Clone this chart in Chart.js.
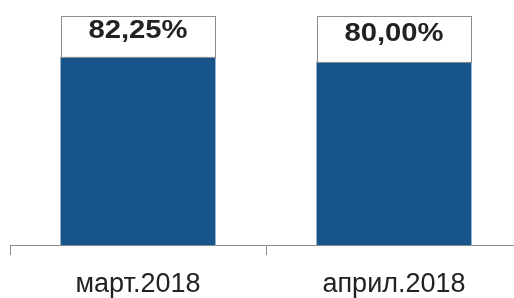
<!DOCTYPE html>
<html>
<head>
<meta charset="utf-8">
<script src="https://cdn.jsdelivr.net/npm/chart.js@4/dist/chart.umd.min.js"></script>
<style>
  html, body { margin: 0; padding: 0; background: #fff; overflow: hidden; }
  #wrap { position: relative; width: 522px; height: 298px; }
</style>
</head>
<body>
<div id="wrap"><canvas id="myChart"></canvas></div>
<script>
const categories = ['март.2018', 'април.2018'];
const values = [82.25, 80.00];
const scaleMax = 100;

const barColor = '#165489';

// white box with the percentage, from the bar top up to 100%
const valueBoxes = {
    id: 'valueBoxes',
    afterDatasetsDraw(chart) {
        const ctx = chart.ctx
        const y = chart.scales.y
        const meta = chart.getDatasetMeta(0)
        const top = y.getPixelForValue(scaleMax)
        meta.data.forEach((bar, i) => {
            const left = bar.x - bar.width / 2
            const bottom = bar.y
            ctx.save()
            ctx.fillStyle = '#fff'
            ctx.fillRect(left, top, bar.width, bottom - top)
            ctx.strokeStyle = '#8c8c8c'
            ctx.lineWidth = 1
            ctx.strokeRect(Math.round(left) + 0.5, Math.round(top) + 0.5, Math.round(bar.width) - 1, Math.round(bottom - top))
            const txt = values[i].toFixed(2).replace('.', ',') + '%'
            ctx.translate(bar.x, (top + bottom) / 2 - 5)
            ctx.scale(1.17, 1)
            ctx.fillStyle = '#222'
            ctx.font = 'bold 25px "Liberation Sans", Arial, sans-serif'
            ctx.textAlign = 'center'
            ctx.textBaseline = 'middle'
            ctx.fillText(txt, 0, 0)
            ctx.restore()
        })
    }
}

new Chart('myChart', {
    type: 'bar',
    data: {
        labels: categories,
        datasets: [{
            data: values,
            backgroundColor: barColor,
            borderWidth: 0,
            categoryPercentage: 1,
            barPercentage: 0.605
        }]
    },
    options: {
        responsive: true,
        maintainAspectRatio: false,
        animation: false,
        // x axis counts tick padding twice, so pull its box below the canvas
        layout: { padding: { left: 10, right: 0, top: 16, bottom: -16 } },
        plugins: {
            legend: { display: false },
            tooltip: { enabled: false }
        },
        scales: {
            x: {
                grid: {
                    offset: true,
                    drawOnChartArea: false,
                    drawTicks: true,
                    tickLength: 10,
                    color: '#8c8c8c'
                },
                border: { display: true, color: '#8c8c8c', width: 1 },
                ticks: {
                    color: '#222',
                    padding: 22,
                    font: { family: '"Liberation Sans", Arial, sans-serif', size: 27, lineHeight: 0.55 }
                }
            },
            y: {
                display: false,
                min: 0,
                max: scaleMax
            }
        }
    },
    plugins: [valueBoxes]
});
</script>
</body>
</html>
